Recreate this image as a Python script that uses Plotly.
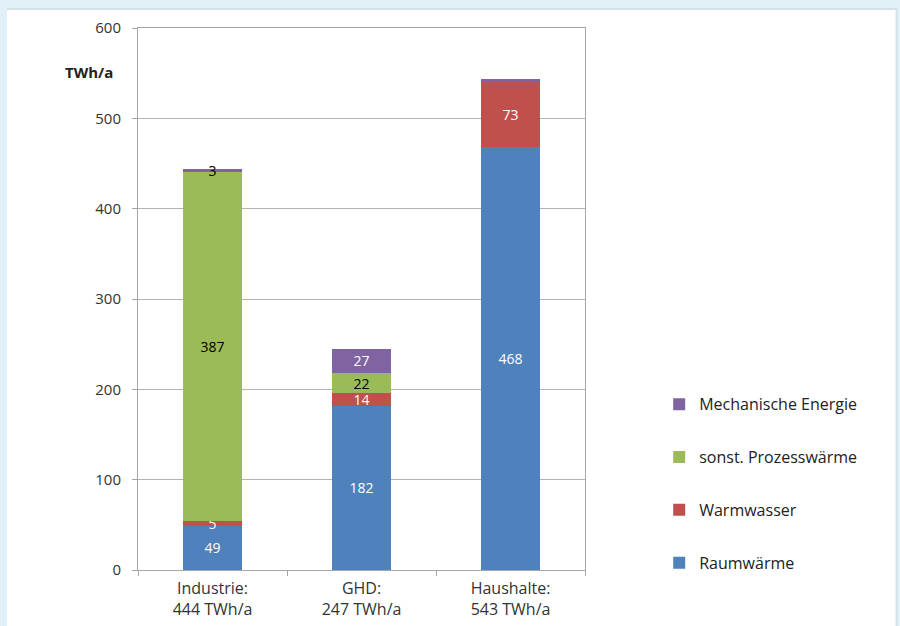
import plotly.graph_objects as go

categories = ["Industrie:<br>444 TWh/a", "GHD:<br>247 TWh/a", "Haushalte:<br>543 TWh/a"]
raumwaerme = [49, 182, 468]
warmwasser = [5, 14, 73]
prozesswaerme = [387, 22, 0]
mech_energie = [3, 27, 2]

raum_labels = ["49", "182", "468"]
warm_labels = ["5", "14", "73"]
proz_labels = ["387", "22", ""]
mech_labels = ["3", "27", ""]

series = [
    ("Raumwärme", raumwaerme, raum_labels, "#4f81bd", "white", 4),
    ("Warmwasser", warmwasser, warm_labels, "#c0504d", "white", 3),
    ("sonst. Prozesswärme", prozesswaerme, proz_labels, "#9bbb59", "black", 2),
    ("Mechanische Energie", mech_energie, mech_labels, "#8064a2", "white", 1),
]

FONT = "Open Sans"

fig = go.Figure()
for name, vals, labels, color, tcol, rank in series:
    tcols = [tcol] * len(vals)
    if name == "Mechanische Energie":
        tcols[0] = "black"
    fig.add_trace(go.Bar(
        x=categories, y=vals, name=name, text=labels,
        textposition="inside", insidetextanchor="middle", textangle=0,
        textfont=dict(color=tcols, size=14, family=FONT),
        marker=dict(color=color, line=dict(width=0)),
        legendgroup=name, legendrank=rank, cliponaxis=False,
    ))

fig.update_layout(
    barmode="stack",
    bargap=0.6,
    width=900, height=626,
    margin=dict(l=138, r=315, t=28, b=56),
    paper_bgcolor="#e2f1f8",
    plot_bgcolor="white",
    font=dict(family=FONT, size=16, color="#333333"),
    uniformtext=dict(minsize=14, mode="show"),
    showlegend=True,
    legend=dict(
        x=1.166, y=0.337, xanchor="left", yanchor="top",
        traceorder="grouped", tracegroupgap=29,
        font=dict(size=16, color="#222222", family=FONT),
        bgcolor="rgba(0,0,0,0)",
    ),
    shapes=[
        dict(type="rect", xref="paper", yref="paper",
             x0=-0.293, x1=1.697, y0=-0.2, y1=1.035,
             fillcolor="white", line=dict(width=0), layer="below"),
        dict(type="line", xref="paper", yref="paper",
             x0=-0.293, x1=1.697, y0=1.035, y1=1.035,
             line=dict(color="#d3e0e6", width=2), layer="below"),
        dict(type="line", xref="paper", yref="paper",
             x0=1.697, x1=1.697, y0=-0.2, y1=1.035,
             line=dict(color="#d3e0e6", width=2), layer="below"),
    ],
    annotations=[
        dict(text="<b>TWh/a</b>", xref="paper", yref="paper",
             x=-0.11, y=0.919, xanchor="center", yanchor="middle",
             showarrow=False, font=dict(size=15, color="#222222", family=FONT)),
    ],
)

fig.update_yaxes(
    range=[0, 600], dtick=100, tick0=0, automargin=False,
    showgrid=True, gridcolor="#b3b3b3", gridwidth=1,
    showline=True, linecolor="#a6a6a6", linewidth=1, mirror=True,
    ticks="outside", ticklen=5, tickcolor="#a6a6a6", ticklabelstandoff=8,
    tickfont=dict(size=15, color="#333333"), zeroline=False,
)
fig.update_xaxes(
    automargin=False,
    showline=True, linecolor="#a6a6a6", linewidth=1, mirror=True,
    ticks="outside", ticklen=5, tickcolor="#a6a6a6", tickson="boundaries",
    ticklabelstandoff=4,
    tickfont=dict(size=16, color="#333333"),
)

fig.write_html("out.html")
